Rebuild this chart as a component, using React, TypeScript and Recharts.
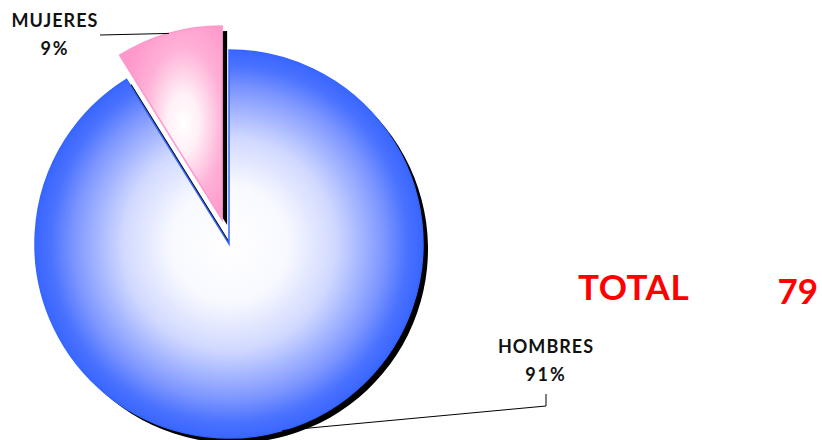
import { PieChart, Pie, Cell } from 'recharts'

const CATEGORIES = ['HOMBRES', 'MUJERES']
const VALUES = [72, 7]
const EXPLODED = 'MUJERES'

const data = CATEGORIES.map((name, i) => ({ name, value: VALUES[i] }))
const total = VALUES.reduce((a, b) => a + b, 0)

// pie geometry
const CX = 229
const CY = 244
const R = 194
const START = 90
const END = -270
const EXPLODE = 25
const SHADOW = 5
const RAD = Math.PI / 180

// exploded slice centre, pushed out along its bisector
const expIdx = CATEGORIES.indexOf(EXPLODED)
const before = VALUES.slice(0, expIdx).reduce((a, b) => a + b, 0)
const expMid = START - (360 * (before + VALUES[expIdx] / 2)) / total
const ECX = CX + EXPLODE * Math.cos(expMid * RAD)
const ECY = CY - EXPLODE * Math.sin(expMid * RAD)

const FILL: Record<string, string> = {
  HOMBRES: 'url(#gradBlue)',
  MUJERES: 'url(#gradPink)',
}
const EDGE: Record<string, string> = {
  HOMBRES: '#3366ff',
  MUJERES: '#ff99cc',
}

// where each label sits and how its leader line bends
const LABEL_POS: Record<string, { x: number; y: number; path: [number, number][] }> = {
  HOMBRES: { x: 546, y: 353, path: [[546, 406], [546, 394]] },
  MUJERES: { x: 55, y: 27, path: [[100, 35]] },
}

const FONT = 'Lato, "Open Sans", sans-serif'

function makeLabel(target: string) {
  return (props: any) => {
    const { cx, cy, midAngle, outerRadius, name, percent } = props
    if (name !== target) return <g />
    const pos = LABEL_POS[name]
    const sx = cx + outerRadius * Math.cos(-midAngle * RAD)
    const sy = cy + outerRadius * Math.sin(-midAngle * RAD)
    const pts = [[sx, sy], ...pos.path].map((p) => p.join(',')).join(' ')
    const txt = {
      textAnchor: 'middle' as const,
      fontFamily: FONT,
      fontWeight: 700,
      fontSize: 18,
      letterSpacing: 1,
      fill: '#111',
    }
    return (
      <g>
        <polyline points={pts} fill="none" stroke="#000" strokeWidth={1} />
        <text x={pos.x} y={pos.y} {...txt}>
          {name}
        </text>
        <text x={pos.x} y={pos.y + 28} {...txt} letterSpacing={2}>
          {`${Math.round(percent * 100)}%`}
        </text>
      </g>
    )
  }
}

export default function App() {
  return (
    <div style={{ position: 'absolute', left: 0, top: 0, width: 822, height: 440, background: '#fff' }}>
      <PieChart width={822} height={440} margin={{ top: 0, right: 0, bottom: 0, left: 0 }}>
        <defs>
          <radialGradient id="gradBlue" cx="50%" cy="50%" r="50%">
            <stop offset="0%" stopColor="#ffffff" />
            <stop offset="30%" stopColor="#f8f9ff" />
            <stop offset="55%" stopColor="#d0d8ff" />
            <stop offset="80%" stopColor="#7d96ff" />
            <stop offset="92%" stopColor="#4a72ff" />
            <stop offset="100%" stopColor="#3a66ff" />
          </radialGradient>
          <radialGradient id="gradPink" cx="62%" cy="50%" r="60%" fx="62%" fy="50%">
            <stop offset="0%" stopColor="#ffffff" />
            <stop offset="25%" stopColor="#fff0f7" />
            <stop offset="65%" stopColor="#ffb0d6" />
            <stop offset="100%" stopColor="#ff99cc" />
          </radialGradient>
        </defs>

        {/* shadows */}
        <Pie
          data={data}
          dataKey="value"
          nameKey="name"
          cx={CX + SHADOW}
          cy={CY + SHADOW}
          outerRadius={R}
          startAngle={START}
          endAngle={END}
          stroke="none"
          isAnimationActive={false}
        >
          {data.map((d) => (
            <Cell key={d.name} fill={d.name === EXPLODED ? 'none' : '#000'} />
          ))}
        </Pie>
        <Pie
          data={data}
          dataKey="value"
          nameKey="name"
          cx={ECX + SHADOW}
          cy={ECY + SHADOW}
          outerRadius={R}
          startAngle={START}
          endAngle={END}
          stroke="none"
          isAnimationActive={false}
        >
          {data.map((d) => (
            <Cell key={d.name} fill={d.name === EXPLODED ? '#000' : 'none'} />
          ))}
        </Pie>

        {/* main slices */}
        <Pie
          data={data}
          dataKey="value"
          nameKey="name"
          cx={CX}
          cy={CY}
          outerRadius={R}
          startAngle={START}
          endAngle={END}
          label={makeLabel('HOMBRES')}
          labelLine={false}
          isAnimationActive={false}
        >
          {data.map((d) => (
            <Cell
              key={d.name}
              fill={d.name === EXPLODED ? 'none' : FILL[d.name]}
              stroke={d.name === EXPLODED ? 'none' : EDGE[d.name]}
              strokeWidth={1.5}
            />
          ))}
        </Pie>
        <Pie
          data={data}
          dataKey="value"
          nameKey="name"
          cx={ECX}
          cy={ECY}
          outerRadius={R}
          startAngle={START}
          endAngle={END}
          label={makeLabel('MUJERES')}
          labelLine={false}
          isAnimationActive={false}
        >
          {data.map((d) => (
            <Cell
              key={d.name}
              fill={d.name === EXPLODED ? FILL[d.name] : 'none'}
              stroke={d.name === EXPLODED ? EDGE[d.name] : 'none'}
              strokeWidth={1.5}
            />
          ))}
        </Pie>
      </PieChart>

      <svg
        width={822}
        height={440}
        style={{ position: 'absolute', left: 0, top: 0, pointerEvents: 'none' }}
      >
        <text x={578} y={300} fontFamily={FONT} fontWeight={700} fontSize={35} letterSpacing={0.5} fill="#ff0000">
          TOTAL
        </text>
        <text x={818} y={304} textAnchor="end" fontFamily={FONT} fontWeight={700} fontSize={35} fill="#ff0000">
          {total}
        </text>
      </svg>
    </div>
  )
}
